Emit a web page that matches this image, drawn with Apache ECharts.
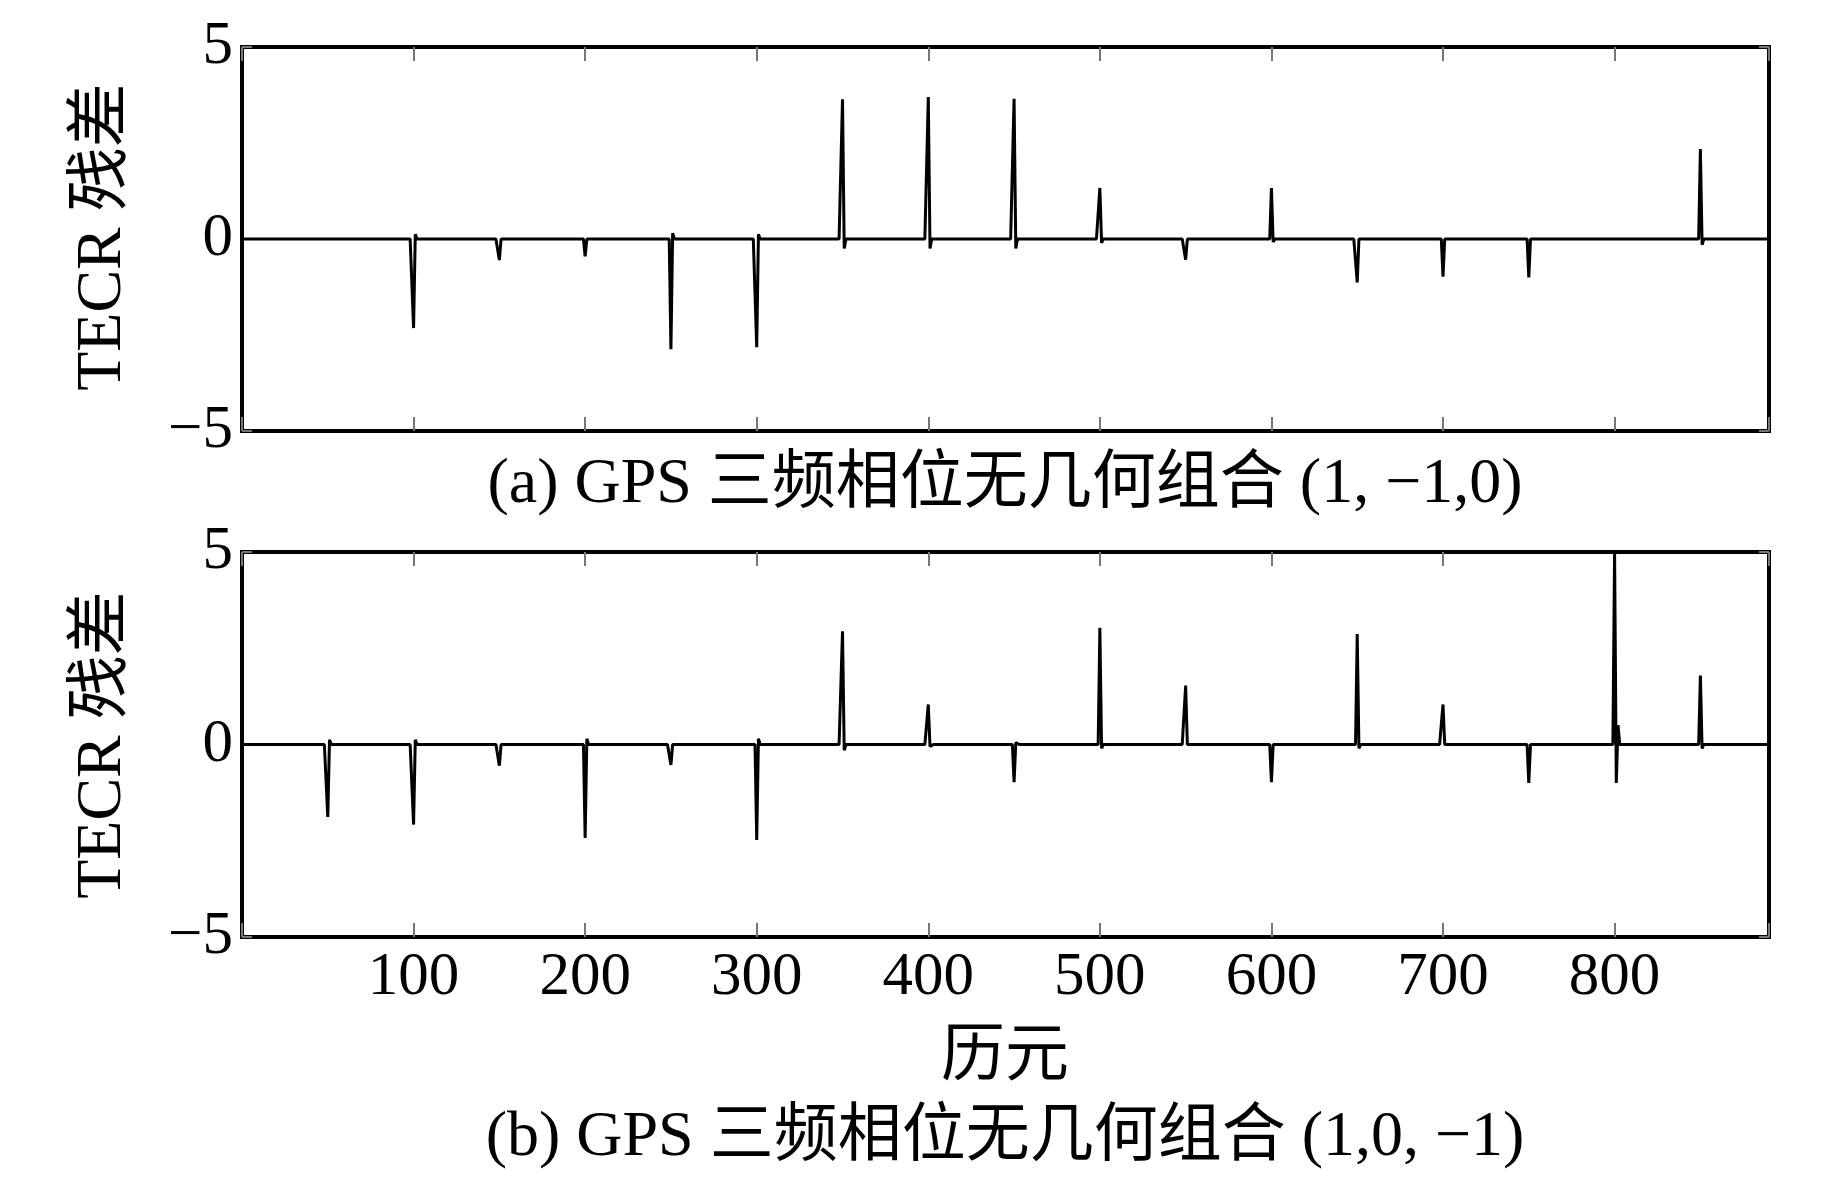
<!DOCTYPE html>
<html>
<head>
<meta charset="utf-8">
<script src="https://cdn.jsdelivr.net/npm/echarts@6/dist/echarts.min.js"></script>
<style>
  html, body { margin: 0; padding: 0; background: #fff; }
  #chart { width: 1843px; height: 1181px; }
</style>
</head>
<body>
<div id="chart"></div>
<script>
// epochs and TECR residual values (only the non-zero samples, rest is 0)
const lastEpoch = 890
const epochsA = [100, 101, 150, 200, 250, 251, 300, 301, 350, 351, 400, 401, 450, 451, 500, 501, 550, 600, 601, 650, 700, 750, 850, 851]
const tecrA = [-2.32, 0.12, -0.55, -0.45, -2.87, 0.15, -2.82, 0.12, 3.64, -0.25, 3.7, -0.25, 3.65, -0.25, 1.33, -0.1, -0.54, 1.33, -0.08, -1.13, -0.98, -1.0, 2.34, -0.15]
const epochsB = [50, 51, 100, 101, 150, 200, 201, 250, 300, 301, 350, 351, 400, 401, 450, 451, 500, 501, 550, 600, 650, 651, 700, 750, 800, 801, 802, 850, 851]
const tecrB = [-1.88, 0.12, -2.08, 0.12, -0.55, -2.43, 0.15, -0.53, -2.48, 0.15, 2.94, -0.15, 1.04, -0.05, -0.98, 0.05, 3.03, -0.1, 1.53, -0.98, 2.87, -0.1, 1.04, -1.0, 5.0, -1.0, 0.5, 1.79, -0.1]
const xTicks = [100, 200, 300, 400, 500, 600, 700, 800]
const yTicks = [-5, 0, 5]
const captionA = '(a) GPS 三频相位无几何组合 (1, −1,0)'
const captionB = '(b) GPS 三频相位无几何组合 (1,0, −1)'
const yTitle = 'TECR 残差'
const xTitle = '历元'

function buildSeries (epochs, vals) {
  const m = {}
  epochs.forEach((e, i) => { m[e] = vals[i] })
  const out = []
  for (let e = 0; e <= lastEpoch; e++) out.push([e, m[e] !== undefined ? m[e] : 0])
  return out
}

const font = '"Liberation Serif", "Times New Roman", "Noto Sans CJK SC", serif'
const fs = 61
const tickStyle = { show: true, inside: true, length: 14, lineStyle: { color: '#777', width: 2 } }

function xAxes (gridIndex, showLabels) {
  return [
    {
      type: 'value', gridIndex, min: 0, max: lastEpoch, interval: 100, position: 'bottom',
      axisLine: { show: false, onZero: false }, splitLine: { show: false }, axisTick: tickStyle,
      axisLabel: {
        show: showLabels, margin: 10, color: '#000', fontFamily: font, fontSize: fs,
        formatter: v => xTicks.includes(v) ? String(v) : ''
      }
    },
    {
      type: 'value', gridIndex, min: 0, max: lastEpoch, interval: 100, position: 'top',
      axisLine: { show: false, onZero: false }, splitLine: { show: false }, axisTick: tickStyle,
      axisLabel: { show: false }
    }
  ]
}

function yAxes (gridIndex) {
  return [
    {
      type: 'value', gridIndex, min: -5, max: 5, interval: 5, position: 'left',
      axisLine: { show: false, onZero: false }, splitLine: { show: false }, axisTick: { ...tickStyle, length: 10 },
      axisLabel: {
        margin: 9, color: '#000', fontFamily: font, fontSize: fs,
        formatter: v => yTicks.includes(v) ? (v < 0 ? '−' + Math.abs(v) : String(v)) : ''
      }
    },
    {
      type: 'value', gridIndex, min: -5, max: 5, interval: 5, position: 'right',
      axisLine: { show: false, onZero: false }, splitLine: { show: false }, axisTick: { ...tickStyle, length: 10 },
      axisLabel: { show: false }
    }
  ]
}

const textStyle = (x, y, text, size, rot) => ({
  type: 'text', x, y, rotation: rot || 0,
  style: { text, fill: '#000', font: size + 'px ' + font, align: 'center', verticalAlign: 'middle' }
})

const chart = echarts.init(document.getElementById('chart'))
chart.setOption({
  animation: false,
  grid: [
    { left: 242, top: 47, width: 1527, height: 384, show: true, borderColor: '#000', borderWidth: 4, backgroundColor: 'transparent' },
    { left: 242, top: 552, width: 1527, height: 385, show: true, borderColor: '#000', borderWidth: 4, backgroundColor: 'transparent' }
  ],
  xAxis: [...xAxes(0, false), ...xAxes(1, true)],
  yAxis: [...yAxes(0), ...yAxes(1)],
  series: [
    {
      type: 'line', xAxisIndex: 0, yAxisIndex: 0, data: buildSeries(epochsA, tecrA),
      showSymbol: false, lineStyle: { color: '#000', width: 3 }
    },
    {
      type: 'line', xAxisIndex: 2, yAxisIndex: 2, data: buildSeries(epochsB, tecrB),
      showSymbol: false, lineStyle: { color: '#000', width: 3 }
    }
  ],
  graphic: [
    textStyle(103, 237, yTitle, 64, Math.PI / 2),
    textStyle(103, 745, yTitle, 64, Math.PI / 2),
    textStyle(1005, 485, captionA, 64),
    textStyle(1005, 1058, xTitle, 64),
    textStyle(1005, 1138, captionB, 64)
  ]
})
</script>
</body>
</html>
